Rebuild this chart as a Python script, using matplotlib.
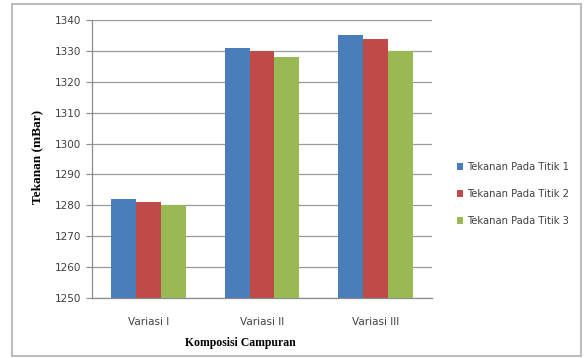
import matplotlib
matplotlib.use("Agg")
import matplotlib.pyplot as plt
import numpy as np
from matplotlib.patches import Rectangle

categories = ["Variasi I", "Variasi II", "Variasi III"]
series_names = ["Tekanan Pada Titik 1", "Tekanan Pada Titik 2", "Tekanan Pada Titik 3"]
titik_1 = [1282, 1331, 1335]
titik_2 = [1281, 1330, 1334]
titik_3 = [1280, 1328, 1330]
y_ticks = [1250, 1260, 1270, 1280, 1290, 1300, 1310, 1320, 1330, 1340]

colors = ["#4A7EBB", "#BE4B48", "#98B954"]
serif = ["Liberation Serif", "DejaVu Serif"]

fig = plt.figure(figsize=(5.84, 3.58), dpi=100)
ax = fig.add_axes([92 / 584, 1 - 298 / 358, 340 / 584, 278 / 358])

# chart frame
fig.patches.append(Rectangle((12 / 584, 1 - 356 / 358), 569 / 584, 352 / 358,
                             transform=fig.transFigure, fill=False,
                             edgecolor="#bdbdbd", linewidth=1.5))

x = np.arange(len(categories))
width = 0.22
for i, vals in enumerate([titik_1, titik_2, titik_3]):
    ax.bar(x + (i - 1) * width, np.array(vals) - 1250, width, bottom=1250,
           color=colors[i], label=series_names[i], zorder=3)

ax.set_xlim(-0.5, 2.5)
ax.set_ylim(1250, 1340)
ax.set_yticks(y_ticks)
ax.set_yticklabels([str(v) for v in y_ticks], fontsize=7.5, color="#404040")
ax.set_xticks(x)
ax.set_xticklabels(categories, fontsize=7.5, color="#404040")
ax.tick_params(axis="y", length=4, color="#8c8c8c", pad=4)
ax.tick_params(axis="x", length=0, pad=14)
ax.yaxis.grid(True, color="#9a9a9a", linewidth=0.9, zorder=0)
ax.set_axisbelow(True)
for side in ["top", "right"]:
    ax.spines[side].set_visible(False)
for side in ["left", "bottom"]:
    ax.spines[side].set_color("#8c8c8c")
    ax.spines[side].set_linewidth(0.9)

fig.text(37 / 584, 1 - 157 / 358, "Tekanan (mBar)", rotation=90, ha="center",
         va="center", fontsize=9.5, fontweight="bold", family=serif)
fig.text(240 / 584, 1 - 343 / 358, "Komposisi Campuran", ha="center",
         va="center", fontsize=8.5, fontweight="bold", family=serif)

leg = fig.legend(loc="upper left", bbox_to_anchor=(448 / 584, 1 - 153 / 358),
                 frameon=False, fontsize=7.2, handlelength=0.6, handleheight=0.6,
                 handletextpad=0.4, labelspacing=1.7)
for t in leg.get_texts():
    t.set_color("#404040")

fig.savefig("out.png", dpi=100)
